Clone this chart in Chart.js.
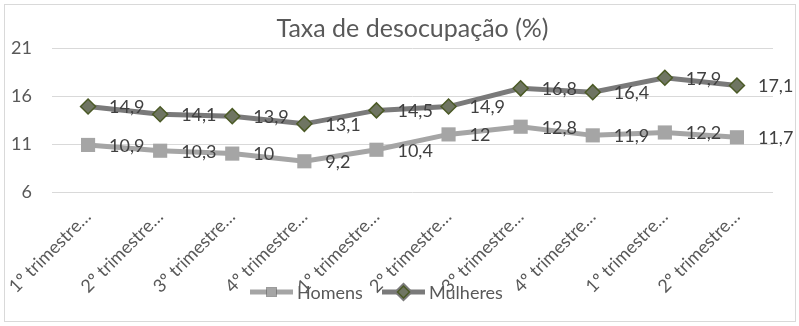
<!DOCTYPE html>
<html>
<head>
<meta charset="utf-8">
<script src="https://cdn.jsdelivr.net/npm/chart.js@4"></script>
<style>
  body { margin: 0; background: #fff; }
  #wrap { position: relative; width: 799px; height: 326px; }
  #frame { position: absolute; left: 4px; top: 4px; width: 790px; height: 316px; border: 1px solid #d9d9d9; }
  #chart { position: absolute; left: 0; top: 0; }
</style>
</head>
<body>
<div id="wrap">
  <div id="frame"></div>
  <canvas id="chart" width="799" height="326"></canvas>
</div>
<script>
const categories = [
  "1º trimestre…", "2º trimestre…", "3º trimestre…", "4º trimestre…",
  "1º trimestre…", "2º trimestre…", "3º trimestre…", "4º trimestre…",
  "1º trimestre…", "2º trimestre…"
];
const homens = [10.9, 10.3, 10, 9.2, 10.4, 12, 12.8, 11.9, 12.2, 11.7];
const mulheres = [14.9, 14.1, 13.9, 13.1, 14.5, 14.9, 16.8, 16.4, 17.9, 17.1];
const yTicks = [6, 11, 16, 21];

const FONT = "Lato, 'Open Sans', sans-serif";

//value labels right of each point, comma decimal
const dataLabels = {
  id: "dataLabels",
  afterDatasetsDraw(chart) {
    const ctx = chart.ctx;
    ctx.save();
    ctx.font = "18px " + FONT;
    ctx.fillStyle = "#404040";
    ctx.textAlign = "left";
    ctx.textBaseline = "middle";
    chart.data.datasets.forEach((ds, i) => {
      chart.getDatasetMeta(i).data.forEach((pt, j) => {
        const txt = String(ds.data[j]).replace(".", ",");
        ctx.fillText(txt, pt.x + 21, pt.y + 1);
      });
    });
    ctx.restore();
  },
};

//legend drawn over the axis labels like the original
const overlapLegend = {
  id: "overlapLegend",
  afterDraw(chart) {
    const ctx = chart.ctx;
    const y = 292;
    const items = [
      { x: 250, ds: chart.data.datasets[0] },
      { x: 382, ds: chart.data.datasets[1] },
    ];
    ctx.save();
    items.forEach((it) => {
      const ds = it.ds;
      ctx.strokeStyle = ds.borderColor;
      ctx.lineWidth = ds.borderWidth;
      ctx.beginPath();
      ctx.moveTo(it.x, y);
      ctx.lineTo(it.x + 43, y);
      ctx.stroke();
      Chart.helpers.drawPoint(ctx, {
        pointStyle: ds.pointStyle,
        radius: ds.legendRadius,
        borderWidth: ds.pointBorderWidth,
      }, it.x + 21.5, y);
      ctx.fillStyle = ds.pointBackgroundColor;
      ctx.strokeStyle = ds.pointBorderColor;
      ctx.lineWidth = ds.pointBorderWidth;
      ctx.fill();
      if (ds.pointBorderWidth) ctx.stroke();
      ctx.font = "18px " + FONT;
      ctx.fillStyle = "#595959";
      ctx.textAlign = "left";
      ctx.textBaseline = "middle";
      ctx.fillText(ds.label, it.x + 47, y + 1);
    });
    ctx.restore();
  },
};

new Chart(document.getElementById("chart"), {
  type: "line",
  data: {
    labels: categories,
    datasets: [
      {
        label: "Homens",
        data: homens,
        borderColor: "#a5a5a5",
        borderWidth: 5,
        pointStyle: "rect",
        pointRadius: 10,
        legendRadius: 7,
        pointBackgroundColor: "#a5a5a5",
        pointBorderColor: "#a5a5a5",
        pointBorderWidth: 0,
      },
      {
        label: "Mulheres",
        data: mulheres,
        borderColor: "#7a7a7a",
        borderWidth: 5,
        pointStyle: "rectRot",
        pointRadius: 7.5,
        legendRadius: 6,
        pointBackgroundColor: "#6f7562",
        pointBorderColor: "#4b5a26",
        pointBorderWidth: 1.5,
      },
    ],
  },
  plugins: [dataLabels, overlapLegend],
  options: {
    responsive: false,
    animation: false,
    layout: { padding: { left: 0, right: 26, top: 0, bottom: 0 } },
    plugins: {
      legend: { display: false },
      tooltip: { enabled: false },
      title: {
        display: true,
        fullSize: false,
        text: "Taxa de desocupação (%)",
        color: "#595959",
        font: { family: FONT, size: 25, weight: "normal" },
        padding: { top: 14, bottom: 4 },
      },
    },
    scales: {
      x: {
        offset: true,
        grid: { display: false },
        border: { display: false },
        ticks: {
          color: "#595959",
          font: { family: FONT, size: 18 },
          minRotation: 45,
          maxRotation: 45,
          autoSkip: false,
          padding: 6,
        },
        afterFit(scale) { scale.height = 134; },
      },
      y: {
        min: 6,
        max: 21,
        afterBuildTicks(scale) { scale.ticks = yTicks.map((v) => ({ value: v })); },
        grid: { color: "#d9d9d9", lineWidth: 1, drawTicks: false },
        border: { display: false },
        ticks: {
          color: "#595959",
          font: { family: FONT, size: 18 },
          padding: 20,
        },
        afterFit(scale) { scale.width = 52; },
      },
    },
  },
});
</script>
</body>
</html>
